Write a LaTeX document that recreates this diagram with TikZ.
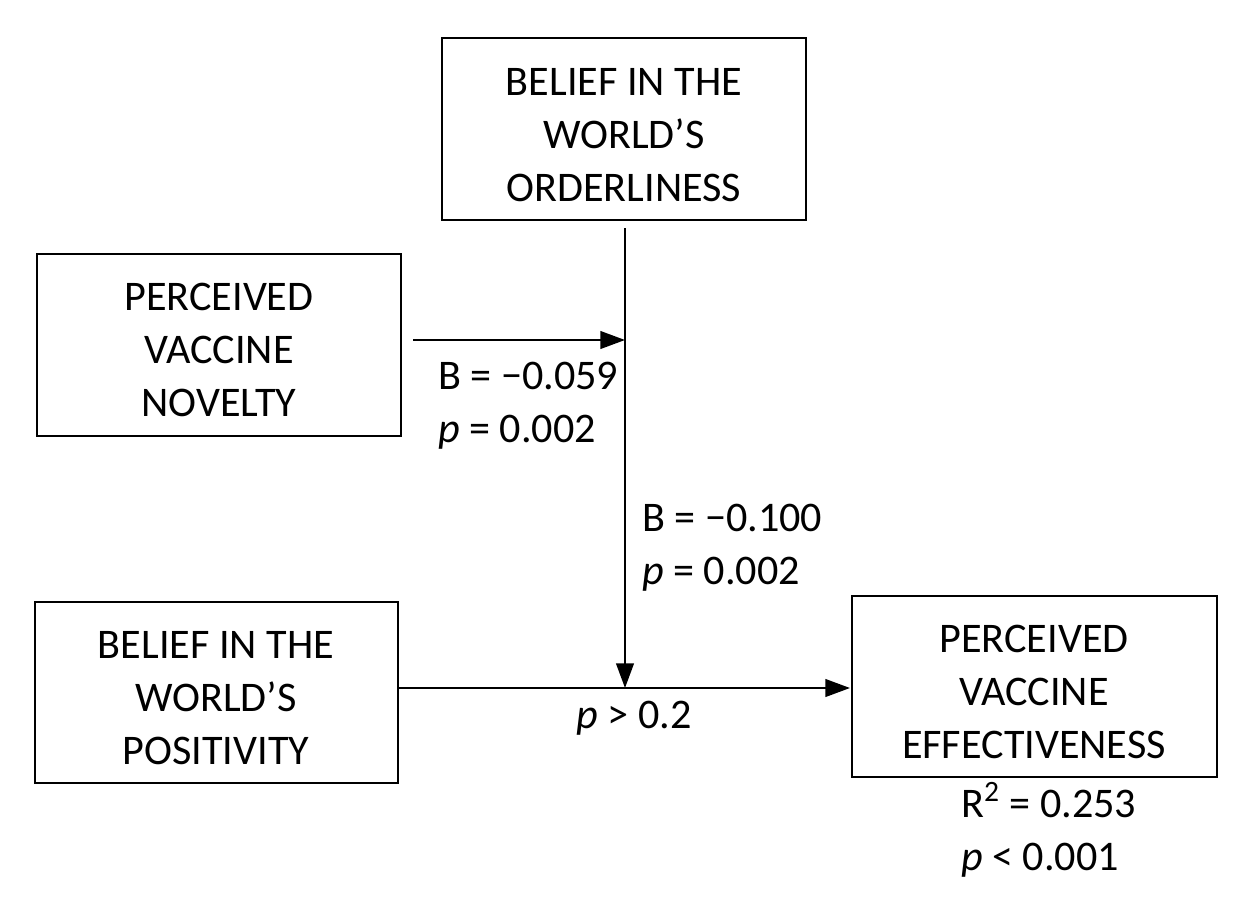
\documentclass[tikz,border=0pt]{standalone}
\usepackage{fontspec}
\setmainfont{Carlito}
\usetikzlibrary{arrows.meta}
\begin{document}
\begin{tikzpicture}[x=0.02cm,y=-0.02cm,
  box/.style={draw,line width=1.3pt},
  txt/.style={font=\fontsize{24}{30}\selectfont,align=center},
  lab/.style={font=\fontsize{24}{30}\selectfont,anchor=west,align=left},
  arr/.style={line width=1.3pt,-{Triangle[length=14pt,width=10pt]}}]
\useasboundingbox (0,0) rectangle (1244,896);
\draw[box] (442,38) rectangle (806,220);
\node[txt] (top) at (624,135) {BELIEF IN THE\\WORLD’S\\ORDERLINESS};
\draw[box] (37,254) rectangle (401,436);
\node[txt] (nov) at (219,350) {PERCEIVED\\VACCINE\\NOVELTY};
\draw[box] (35,602) rectangle (398,783);
\node[txt] (pos) at (216,698) {BELIEF IN THE\\WORLD’S\\POSITIVITY};
\draw[box] (852,596) rectangle (1217,777);
\node[txt] (eff) at (1034,692) {PERCEIVED\\VACCINE\\EFFECTIVENESS};
\coordinate (vt) at (625,228);
\coordinate (vm) at (625,340);
\coordinate (vb) at (625,688);
\coordinate (hs) at (413,340);
\coordinate (ms) at (398,688);
\coordinate (me) at (850,688);
\draw[line width=1.3pt] (vt) -- (vm);
\draw[arr] (vm) -- (vb);
\draw[arr] (hs) -- (vm);
\draw[arr] (ms) -- (me);
\node[lab] (l1) at (432,406) {B = −0.059\\\textit{p} = 0.002};
\node[lab] (l2) at (636,548) {B = −0.100\\\textit{p} = 0.002};
\node[txt] (l3) at (634,718) {\textit{p} > 0.2};
\node[lab] (l4) at (955,830) {R\textsuperscript{2} = 0.253\\\textit{p} < 0.001};
\end{tikzpicture}
\end{document}
